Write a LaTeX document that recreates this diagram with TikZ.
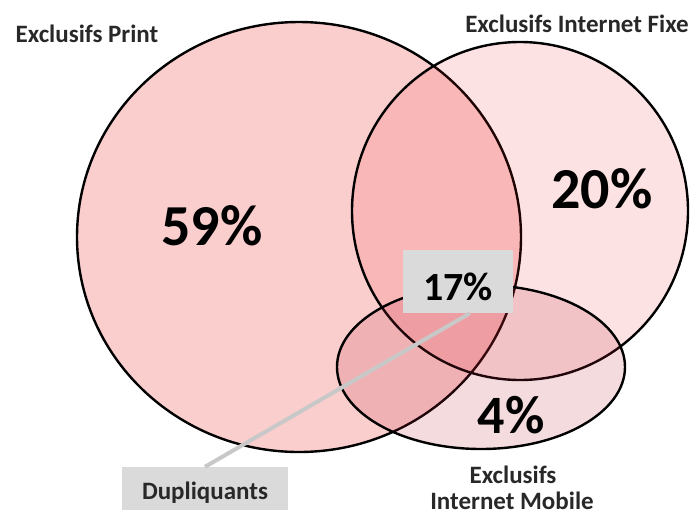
\documentclass[tikz,border=0pt]{standalone}
\usepackage{fontspec}
\setmainfont{Carlito}
\definecolor{venred}{RGB}{235,30,30}
\definecolor{venmob}{RGB}{190,40,60}
\definecolor{boxgray}{RGB}{218,218,218}
\definecolor{linegray}{RGB}{200,200,200}
\definecolor{labelgray}{RGB}{40,40,40}
\usepackage{tikz}

\begin{document}
\begin{tikzpicture}[
    x=1pt, y=-1pt,
    venn/.style={draw=black, line width=2.4pt},
    pct/.style={font=\bfseries\fontsize{58}{60}\selectfont, anchor=base},
    lbl/.style={font=\bfseries\fontsize{25}{26}\selectfont, text=labelgray, anchor=base},
    tag/.style={fill=boxgray, inner sep=0pt, text depth=0pt},
]
\useasboundingbox (0,0) rectangle (699,515);
% the three sets
\path[venn, fill=venred, fill opacity=0.22] (299,237) ellipse [x radius=222pt, y radius=215pt];
\path[venn, fill=venred, fill opacity=0.13] (520,211) ellipse [x radius=168pt, y radius=169pt];
\path[venn, fill=venmob, fill opacity=0.17] (481,367) ellipse [x radius=144pt, y radius=82pt];

\node[pct] (print) at (212,245) {59\%};
\node[pct] (fixe) at (602,208) {20\%};
\node[pct, font=\bfseries\fontsize{54}{56}\selectfont] (mobile) at (511,433) {4\%};

\node[lbl] (lprint) at (87,42) {Exclusifs Print};
\node[lbl] (lfixe) at (577,32) {Exclusifs Internet Fixe};
\node[lbl] (lmobA) at (513,483) {Exclusifs};
\node[lbl] (lmobB) at (512,509) {Internet Mobile};

% overlap box and its pointer
\node[tag, minimum width=110pt, minimum height=63pt, text height=37pt,
      font=\bfseries\fontsize{40}{42}\selectfont] (dup17) at (458,281.5) {17\%};
\node[tag, minimum width=166pt, minimum height=43pt, text height=21pt,
      font=\bfseries\fontsize{25}{26}\selectfont, text=labelgray] (dup) at (205,488.5) {Dupliquants};
\draw[linegray, line width=4pt] (dup.north) -- ([xshift=12pt]dup17.south);
\end{tikzpicture}
\end{document}
